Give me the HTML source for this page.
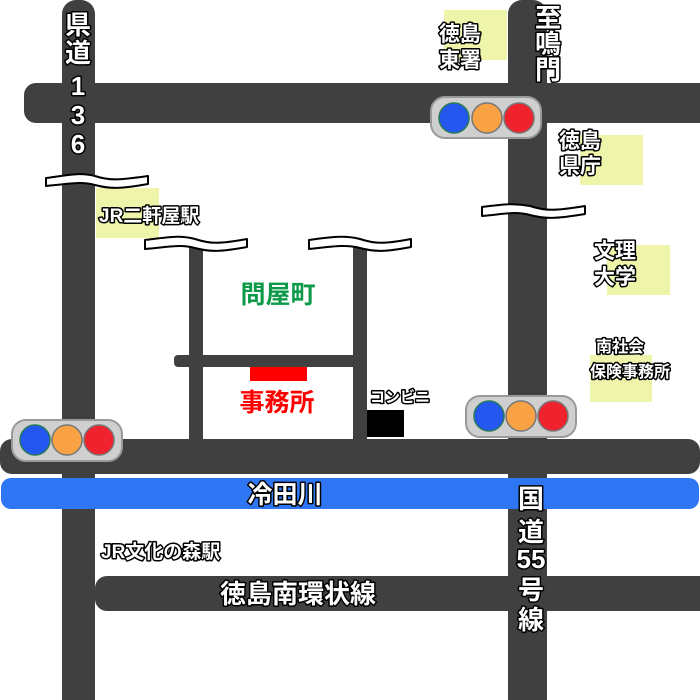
<!DOCTYPE html>
<html><head><meta charset="utf-8"><style>
html,body{margin:0;padding:0;background:#fff;}
svg{display:block;}
text{font-family:"Liberation Sans","Noto Sans CJK JP",sans-serif;font-weight:bold;}
.w{fill:#fff;stroke:#000;stroke-width:3;paint-order:stroke;stroke-linejoin:round;}
</style></head><body>
<svg width="700" height="700" viewBox="0 0 700 700" xmlns="http://www.w3.org/2000/svg">
<rect width="700" height="700" fill="#fff"/>
<g fill="#eef5aa">
<rect x="444" y="10" width="63" height="50"/>
<rect x="580" y="135" width="63" height="50"/>
<rect x="607" y="245" width="63" height="50"/>
<rect x="590" y="355" width="62" height="47"/>
<rect x="96" y="188" width="63" height="50"/>
</g>
<g fill="#404040">
<rect x="62" y="0" width="33" height="700" rx="14"/>
<rect x="62" y="20" width="33" height="680"/>
<rect x="24" y="83" width="690" height="40" rx="12"/>
<rect x="508" y="0" width="39" height="700" rx="14"/>
<rect x="508" y="20" width="39" height="680"/>
<rect x="0" y="439" width="700" height="35" rx="12"/>
<rect x="95" y="576" width="620" height="35" rx="12"/>
<rect x="189" y="245" width="14" height="194"/>
<rect x="353" y="245" width="14" height="194"/>
<rect x="174" y="355" width="193" height="12" rx="4"/>
</g>
<rect x="1" y="478" width="698" height="31" rx="10" fill="#2f76f5"/>
<rect x="250" y="367" width="57" height="14" fill="#ff0000"/>
<rect x="367" y="410" width="37" height="27" fill="#000"/>
<g fill="#fff" stroke="#000" stroke-width="2" stroke-linejoin="round">
<path d="M46,178 C70,175 80,172 95,176 C110,181 120,180 148,176 L148,184 C120,189 110,189 95,185 C80,181 70,184 46,186 Z"/>
<path d="M145,240 C170,237 180,235 195,239 C210,244 220,244 247,239 L247,247 C220,252 210,252 195,248 C180,244 170,247 145,249 Z"/>
<path d="M309,240 C330,237 345,235 360,239 C375,244 385,244 411,239 L411,247 C385,252 375,252 360,248 C345,244 330,247 309,249 Z"/>
<path d="M482,207 C505,204 515,203 530,206 C545,211 555,211 585,206 L585,214 C555,219 545,219 530,215 C515,211 505,214 482,216 Z"/>
</g>
<g>
<rect x="431" y="97" width="110" height="41" rx="14" fill="#cfcfcf" stroke="#999" stroke-width="2"/>
<circle cx="454" cy="118" r="15" fill="#2456f0" stroke="#2a7a5a" stroke-width="1.5"/>
<circle cx="487" cy="118" r="15" fill="#f9a244" stroke="#777" stroke-width="1.5"/>
<circle cx="519" cy="118" r="15" fill="#f0222e" stroke="#777" stroke-width="1.5"/>
<rect x="12" y="420" width="110" height="41" rx="14" fill="#cfcfcf" stroke="#999" stroke-width="2"/>
<circle cx="35" cy="440" r="15" fill="#2456f0" stroke="#2a7a5a" stroke-width="1.5"/>
<circle cx="67" cy="440" r="15" fill="#f9a244" stroke="#777" stroke-width="1.5"/>
<circle cx="99" cy="440" r="15" fill="#f0222e" stroke="#777" stroke-width="1.5"/>
<rect x="466" y="396" width="110" height="41" rx="14" fill="#cfcfcf" stroke="#999" stroke-width="2"/>
<circle cx="489" cy="416" r="15" fill="#2456f0" stroke="#2a7a5a" stroke-width="1.5"/>
<circle cx="521" cy="416" r="15" fill="#f9a244" stroke="#777" stroke-width="1.5"/>
<circle cx="553" cy="416" r="15" fill="#f0222e" stroke="#777" stroke-width="1.5"/>
</g>
<g class="w" font-size="26" text-anchor="middle">
<text x="78" y="34">県</text>
<text x="78" y="62">道</text>
<text x="78" y="95">1</text>
<text x="78" y="124">3</text>
<text x="78" y="153">6</text>
<text x="548" y="27">至</text>
<text x="548" y="53">鳴</text>
<text x="548" y="79">門</text>
<text x="531" y="508">国</text>
<text x="531" y="541">道</text>
<text x="531" y="568">55</text>
<text x="531" y="599">号</text>
<text x="531" y="629">線</text>
</g>
<g class="w" font-size="21">
<text x="439" y="41">徳島</text>
<text x="439" y="67">東署</text>
<text x="559" y="148">徳島</text>
<text x="559" y="173">県庁</text>
<text x="594" y="258">文理</text>
<text x="594" y="284">大学</text>
</g>
<g class="w" font-size="16">
<text x="596" y="352">南社会</text>
<text x="590" y="377">保険事務所</text>
<text x="370" y="402" font-size="15">コンビニ</text>
</g>
<g class="w" font-size="19">
<text x="99" y="222">JR二軒屋駅</text>
<text x="101" y="558">JR文化の森駅</text>
</g>
<text class="w" x="285" y="503" font-size="25" text-anchor="middle">冷田川</text>
<text class="w" x="298" y="603" font-size="26" text-anchor="middle">徳島南環状線</text>
<text x="278" y="303" font-size="25" text-anchor="middle" fill="#0c9a48">問屋町</text>
<text x="277" y="411" font-size="25" text-anchor="middle" fill="#ff0000">事務所</text>
</svg>
</body></html>
